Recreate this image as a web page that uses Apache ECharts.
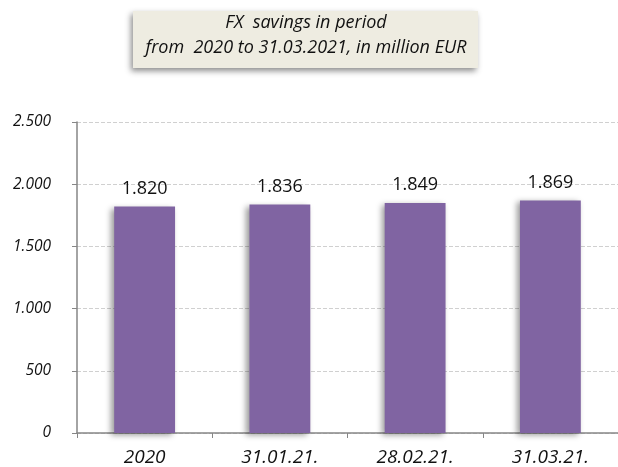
<!DOCTYPE html>
<html>
<head>
<meta charset="utf-8">
<script src="https://cdn.jsdelivr.net/npm/echarts@6/dist/echarts.min.js"></script>
<style>
  html, body { margin: 0; padding: 0; background: #fff; }
  #chart { width: 618px; height: 467px; }
</style>
</head>
<body>
<div id="chart"></div>
<script>
var categories = ['2020', '31.01.21.', '28.02.21.', '31.03.21.'];
var savings = [1820, 1836, 1849, 1869];
var titleLines = ['FX  savings in period', 'from  2020 to 31.03.2021, in million EUR'];

var font = '"Open Sans", Lato, sans-serif';

function fmt(v) {
    // thousands separator is a dot
    return String(v).replace(/\B(?=(\d{3})+(?!\d))/g, '.');
}

var chart = echarts.init(document.getElementById('chart'));
var option = {
    animation: false,
    grid: {
        left: 77,
        width: 547,
        top: 122,
        bottom: 33
    },
    graphic: [
        {
            type: 'rect',
            x: 133,
            y: 11,
            shape: { width: 345, height: 57 },
            style: {
                fill: '#EEECE1',
                shadowColor: 'rgba(0,0,0,0.45)',
                shadowBlur: 6,
                shadowOffsetX: -2,
                shadowOffsetY: 3
            }
        },
        {
            type: 'text',
            x: 306,
            y: 10,
            style: {
                text: titleLines.join('\n'),
                align: 'center',
                font: 'italic 18px ' + font,
                lineHeight: 25,
                fill: '#111'
            }
        }
    ],
    xAxis: {
        type: 'category',
        data: categories,
        axisLine: { lineStyle: { color: '#868686', width: 1.5 } },
        axisTick: { show: true, length: 5, lineStyle: { color: '#868686' } },
        axisLabel: {
            margin: 15,
            fontFamily: font,
            fontStyle: 'italic',
            fontSize: 19,
            color: '#111'
        }
    },
    yAxis: {
        type: 'value',
        min: 0,
        max: 2500,
        interval: 500,
        axisLine: { show: true, lineStyle: { color: '#868686', width: 1.5 } },
        axisTick: { show: true, length: 5, lineStyle: { color: '#868686' } },
        splitLine: { lineStyle: { color: '#d0d0d0', type: 'dashed' } },
        axisLabel: {
            margin: 26,
            fontFamily: font,
            fontStyle: 'italic',
            fontSize: 15.5,
            color: '#111',
            formatter: fmt
        }
    },
    series: [{
        type: 'bar',
        data: savings,
        barWidth: '45%',
        itemStyle: {
            color: '#8064A2',
            shadowColor: 'rgba(0,0,0,0.4)',
            shadowBlur: 6,
            shadowOffsetX: -3,
            shadowOffsetY: 2
        },
        label: {
            show: true,
            position: 'top',
            distance: 9,
            fontFamily: font,
            fontSize: 18,
            color: '#111',
            formatter: function (p) { return fmt(p.value); }
        }
    }]
};
chart.setOption(option);
</script>
</body>
</html>
